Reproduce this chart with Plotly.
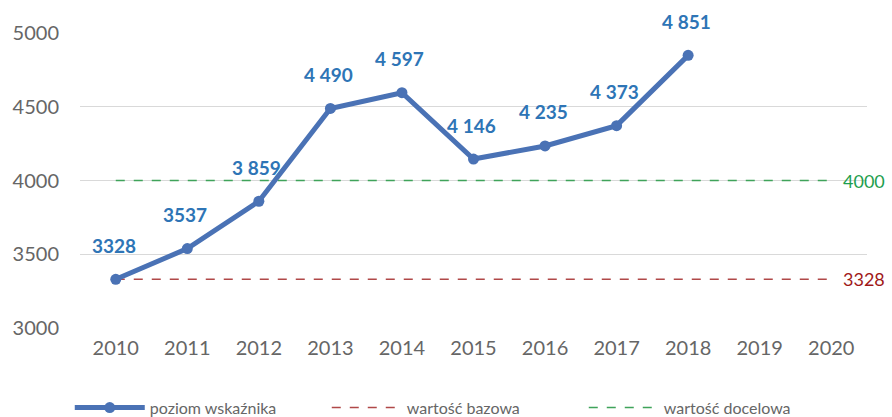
import plotly.graph_objects as go

years = [2010, 2011, 2012, 2013, 2014, 2015, 2016, 2017, 2018, 2019, 2020]
data_years = [2010, 2011, 2012, 2013, 2014, 2015, 2016, 2017, 2018]
values = [3328, 3537, 3859, 4490, 4597, 4146, 4235, 4373, 4851]
value_labels = ["3328", "3537", "3 859", "4 490", "4 597", "4 146", "4 235", "4 373", "4 851"]
base_value = 3328
target_value = 4000
y_ticks = [3000, 3500, 4000, 4500, 5000]

FONT = "Lato"
BLUE = "#4A72B5"
LABEL_BLUE = "#2E75B6"
GREEN_LINE = "#3FA35A"
RED_LINE = "#B04848"
GRAY = "#666666"

fig = go.Figure()

fig.add_trace(go.Scatter(
    x=years, y=[base_value] * len(years), mode="lines",
    name="wartość bazowa", legendrank=2,
    line=dict(color=RED_LINE, width=1.5, dash="dash"),
))
fig.add_trace(go.Scatter(
    x=years, y=[target_value] * len(years), mode="lines",
    name="wartość docelowa", legendrank=3,
    line=dict(color=GREEN_LINE, width=1.5, dash="dash"),
))
fig.add_trace(go.Scatter(
    x=data_years, y=values, mode="lines+markers",
    name="poziom wskaźnika", legendrank=1,
    line=dict(color=BLUE, width=5),
    marker=dict(color=BLUE, size=11),
    cliponaxis=False,
))

annotations = []
for yr, v, lab in zip(data_years, values, value_labels):
    annotations.append(dict(
        x=yr, y=v, xref="x", yref="y", text=lab, showarrow=False,
        yshift=34, xshift=-2,
        font=dict(family=FONT, size=19, color=LABEL_BLUE, weight="bold"),
    ))
annotations.append(dict(
    x=years[-1], y=target_value, xref="x", yref="y", text=str(target_value),
    showarrow=False, xanchor="left", xshift=10,
    font=dict(family=FONT, size=18, color="#1E9E4E"),
))
annotations.append(dict(
    x=years[-1], y=base_value, xref="x", yref="y", text=str(base_value),
    showarrow=False, xanchor="left", xshift=10,
    font=dict(family=FONT, size=18, color="#A01818"),
))

fig.update_layout(
    width=892, height=417,
    margin=dict(l=80, r=25, t=33, b=89, autoexpand=False),
    paper_bgcolor="white", plot_bgcolor="white",
    font=dict(family=FONT, color=GRAY),
    showlegend=True,
    legend=dict(
        orientation="h", x=-0.013, xanchor="left", y=-0.27, yanchor="middle",
        entrywidth=172,
        font=dict(family=FONT, size=16, color=GRAY),
        itemwidth=70,
    ),
    annotations=annotations,
    xaxis=dict(
        type="linear", range=[2009.5, 2020.5], tickvals=years,
        ticktext=[str(y) for y in years],
        showgrid=False, zeroline=False, showline=False, automargin=False,
        tickfont=dict(family=FONT, size=20, color=GRAY),
        ticklabelstandoff=6,
    ),
    yaxis=dict(
        range=[2997, 5003], tickvals=y_ticks,
        showgrid=True, gridcolor="#D9D9D9", gridwidth=1.3,
        zeroline=False, showline=False, automargin=False,
        tickfont=dict(family=FONT, size=20, color=GRAY),
        ticklabelstandoff=20,
    ),
)

fig.write_html(
    "out.html",
    config={"displayModeBar": False},
    post_script="document.body.style.margin='0';document.body.style.overflow='hidden';",
)
